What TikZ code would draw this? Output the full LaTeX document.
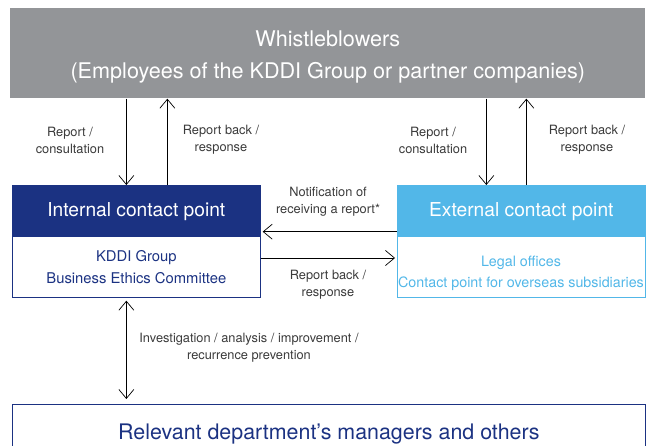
\documentclass[tikz,border=0pt]{standalone}
\usepackage{fontspec}
\setmainfont{TeX Gyre Heros}
\usetikzlibrary{arrows.meta}
\definecolor{kgray}{HTML}{939598}
\definecolor{knavy}{HTML}{1B3282}
\definecolor{ksky}{HTML}{52B7E8}
\definecolor{ktext}{HTML}{3A3A3A}
\tikzset{every node/.style={align=center, inner sep=0pt}, >={Straight Barb[length=9pt,width=15pt]},
  note/.style={text=ktext, font=\fontsize{12.8}{17}\selectfont},
  head/.style={anchor=north west, minimum width=248pt, minimum height=52pt, text=white, font=\fontsize{19.2}{20}\selectfont},
  body/.style={anchor=north west, minimum width=248pt, minimum height=60pt, font=\fontsize{14.8}{22}\selectfont}}

\begin{document}
\begin{tikzpicture}[x=1pt, y=-1pt, line width=0.7pt]
            \clip (0,0) rectangle (654,446);
            % whistleblowers banner
            \node [fill=kgray, anchor=north west, minimum width=635pt, minimum height=90pt] (wb) at (10,8) {};
            \node [text=white, font=\fontsize{21.6}{32}\selectfont] (wbtext) at ([yshift=-4pt]wb.center)
                {Whistleblowers\\(Employees of the KDDI Group or partner companies)};
            % contact points
            \node [head, fill=knavy] (inthead) at (12,185) {Internal contact point};
            \node [body, text=knavy] (intbody) at (12,237) {KDDI Group\\Business Ethics Committee};
            \draw [knavy] (inthead.north west) rectangle (intbody.south east);
            \node [head, fill=ksky] (exthead) at (397,185) {External contact point};
            \node [body] (extbody) at (397,237) {};
            \draw [ksky] (exthead.north west) rectangle (extbody.south east);
            \node [text=ksky, font=\fontsize{14.3}{21}\selectfont] (extlabel) at (521,273.5) {Legal offices\\Contact point for overseas subsidiaries};
            \node [anchor=north west, draw=knavy, minimum width=633pt, minimum height=60pt, text=knavy,
                font=\fontsize{21.4}{22}\selectfont] (mgr) at (12,404) {Relevant department’s managers and others};
            % arrows between the boxes
            \coordinate (a1) at ([xshift=-10pt]inthead.north);
            \coordinate (a2) at ([xshift=31pt]inthead.north);
            \coordinate (a3) at ([xshift=-35pt]exthead.north);
            \coordinate (a4) at ([xshift=5pt]exthead.north);
            \coordinate (a5) at ([yshift=6pt]exthead.south west);
            \coordinate (a6) at ([yshift=-21pt]intbody.north east);
            \coordinate (a7) at ([xshift=-10pt,yshift=-3pt]intbody.south);
            \coordinate (a8) at ([xshift=-10pt,yshift=5pt]mgr.north);
            \draw [->] (a1 |- wb.south) -- (a1);
            \draw [->] (a2) -- (a2 |- wb.south);
            \draw [->] (a3 |- wb.south) -- (a3);
            \draw [->] (a4) -- (a4 |- wb.south);
            \draw [->] (a5) -- ([xshift=2pt]a5 -| inthead.east);
            \draw [->] (a6) -- ([xshift=-2pt]a6 -| extbody.west);
            \draw [<->] (a7) -- (a7 |- a8);
            % labels
            \node [note] (l1) at (70,140) {Report /\\consultation};
            \node [note] (l2) at (221,140) {Report back /\\response};
            \node [note] (l3) at (433,140) {Report /\\consultation};
            \node [note] (l4) at (587,140) {Report back /\\response};
            \node [note] (l5) at (328,202) {Notification of\\receiving a report*};
            \node [note] (l6) at (328,285) {Report back /\\response};
            \node [note] (l7) at (249,348) {Investigation / analysis / improvement /\\recurrence prevention};
        \end{tikzpicture}
\end{document}
